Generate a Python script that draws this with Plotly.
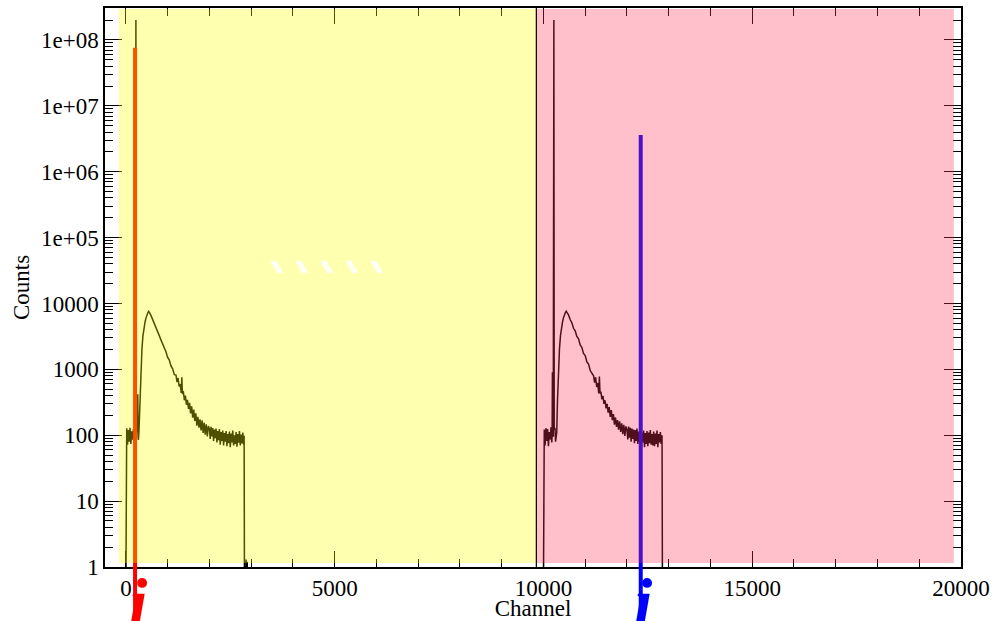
import plotly.graph_objects as go
import numpy as np

# ---------------- data ----------------
# spectrum in the first (yellow) region
ch_a = [0, 4, 20, 40, 60, 80, 100, 120, 140, 160, 180, 200, 215, 232, 240, 248, 265, 285, 292, 300, 312,
        336, 348, 360, 384, 408, 432, 456, 480, 504, 528, 545, 560,
        600, 640, 680, 720, 760, 800, 840, 880, 920, 960, 1000, 1040, 1080, 1120, 1160,
        1200, 1225, 1250, 1275, 1300, 1325, 1340, 1355, 1375, 1400, 1425, 1450, 1475, 1500, 1525, 1550,
        1575, 1600, 1625, 1650, 1675, 1700, 1725, 1750, 1775, 1800, 1825, 1850, 1875, 1900, 1925, 1950, 1975,
        2000, 2020, 2040, 2060, 2080, 2100, 2120, 2140, 2160, 2180, 2200, 2220, 2240, 2260, 2280, 2300,
        2320, 2340, 2360, 2380, 2400, 2420, 2440, 2460, 2480, 2500, 2520, 2540, 2560, 2580, 2600, 2620,
        2640, 2660, 2680, 2700, 2720, 2740, 2760, 2780, 2800, 2820, 2832, 2840, 2870, 2878, 2886, 2900, 2906, 2914]
cnt_a = [0.5, 95, 128, 72, 120, 80, 130, 74, 115, 86, 124, 76, 110, 100, 2.0e8, 130, 110, 420, 95, 85, 110,
         316, 600, 1000, 2000, 3200, 4300, 5100, 6000, 6800, 7300, 7600, 7400,
         6600, 5800, 5000, 4300, 3750, 3250, 2800, 2450, 2050, 1850, 1520, 1380, 1130, 1020, 830,
         820, 640, 740, 550, 600, 440, 760, 420, 470, 340, 400, 290, 345, 250, 310, 215,
         275, 185, 245, 165, 215, 140, 190, 130, 175, 118, 168, 108, 155, 102, 146, 96, 138,
         126, 88, 134, 96, 128, 82, 122, 90, 126, 78, 116, 84, 124, 72, 112, 82,
         118, 70, 108, 80, 116, 68, 104, 76, 114, 66, 106, 78, 118, 70, 100, 74,
         112, 67, 104, 77, 116, 70, 102, 75, 110, 72, 98, 0.5, 0.5, 1.3, 0.5, 0.5, 1.2, 0.5]

# spectrum in the second (pink) region
ch_b = [10000, 10004, 10020, 10040, 10060, 10080, 10100, 10120, 10140, 10160, 10180, 10200, 10208, 10215, 10222,
        10235, 10250, 10258, 10275, 10290, 10305, 10318,
        10336, 10348, 10360, 10384, 10408, 10432, 10456, 10480, 10504, 10528, 10545, 10560,
        10600, 10640, 10680, 10720, 10760, 10800, 10840, 10880, 10920, 10960, 11000, 11040, 11080, 11120, 11160,
        11200, 11225, 11250, 11275, 11300, 11325, 11340, 11355, 11375, 11400, 11425, 11450, 11475, 11500, 11525, 11550,
        11575, 11600, 11625, 11650, 11675, 11700, 11725, 11750, 11775, 11800, 11825, 11850, 11875, 11900, 11925, 11950, 11975,
        12000, 12020, 12040, 12060, 12080, 12100, 12120, 12140, 12160, 12180, 12200, 12220, 12240, 12260, 12280, 12300,
        12320, 12340, 12360, 12380, 12400, 12420, 12440, 12460, 12480, 12500, 12520, 12540, 12560, 12580, 12600, 12620,
        12640, 12660, 12680, 12700, 12720, 12740, 12760, 12780, 12800, 12820, 12840, 12850]
cnt_b = [0.5, 90, 122, 70, 128, 82, 124, 68, 112, 86, 132, 78, 100, 900, 110,
         95, 2.0e8, 120, 130, 80, 95, 110,
         330, 620, 1050, 2050, 3250, 4350, 5200, 6100, 6900, 7350, 7650, 7450,
         6700, 5700, 5100, 4200, 3850, 3150, 2900, 2350, 2150, 1750, 1620, 1300, 1200, 960, 890,
         800, 630, 760, 540, 620, 430, 780, 430, 460, 350, 395, 300, 340, 255, 300, 220,
         268, 190, 240, 170, 210, 145, 186, 134, 170, 122, 162, 112, 152, 104, 144, 98, 136,
         122, 86, 136, 92, 130, 80, 126, 88, 122, 76, 120, 82, 126, 74, 114, 80,
         120, 70, 110, 78, 118, 66, 108, 74, 116, 68, 110, 76, 120, 72, 104, 70,
         114, 68, 106, 74, 118, 66, 104, 78, 112, 74, 100, 0.5]

# vertical cursor markers
marker_ch = [220, 12330]
marker_top = [7.6e7, 3.6e6]
marker_col = ["red", "blue"]

# shaded regions (semi-transparent overlays)
region_x0 = [-170, 9830]
region_x1 = [9830, 19830]
region_col = ["rgb(255,255,0)", "rgb(255,52,87)"]
divider_ch = 9830

# white marks
white_x = [3620, 4220, 4820, 5420, 6020]
white_y = 36000

# ticks
x_tickvals = [0, 5000, 10000, 15000, 20000]
x_ticktext = ["0", "5000", "10000", "15000", "20000"]
x_minor = [v for v in range(0, 20001, 1000) if v % 5000 != 0]
y_tickvals = [1, 10, 100, 1000, 1e4, 1e5, 1e6, 1e7, 1e8]
y_ticktext = ["1", "10", "100", "1000", "10000", "1e+05", "1e+06", "1e+07", "1e+08"]
y_minor = [m * d for d in [1, 10, 100, 1000, 1e4, 1e5, 1e6, 1e7, 1e8] for m in range(2, 10)]

FONT = "Liberation Serif"

fig = go.Figure()
fig.add_trace(go.Scatter(x=ch_a, y=cnt_a, mode="lines", line=dict(color="black", width=1.5),
                         showlegend=False, hoverinfo="skip"))
fig.add_trace(go.Scatter(x=ch_b, y=cnt_b, mode="lines", line=dict(color="black", width=1.5),
                         showlegend=False, hoverinfo="skip"))

shapes = []
# cursor markers (drawn first so overlays tint them)
for cx, top, col in zip(marker_ch, marker_top, marker_col):
    shapes.append(dict(type="line", xref="x", yref="y", x0=cx, x1=cx, y0=1, y1=top,
                       line=dict(color=col, width=4), layer="above"))
    shapes.append(dict(type="line", xref="x", yref="paper", x0=cx, x1=cx, y0=-0.2, y1=0,
                       line=dict(color=col, width=4), layer="above"))
# overlays
for x0, x1, col in zip(region_x0, region_x1, region_col):
    shapes.append(dict(type="rect", xref="x", yref="paper", x0=x0, x1=x1, y0=0.007, y1=0.998,
                       fillcolor=col, opacity=0.31, line=dict(width=0), layer="above"))
shapes.append(dict(type="line", xref="x", yref="paper", x0=divider_ch, x1=divider_ch, y0=0, y1=1,
                   line=dict(color="black", width=1.2), layer="above"))

annotations = []
for cx, col in zip(marker_ch, marker_col):
    annotations.append(dict(x=cx, y=0, xref="x", yref="paper", text="<b><i>i</i></b>", showarrow=False,
                            xanchor="center", yanchor="top", xshift=3, yshift=4,
                            font=dict(family=FONT, size=66, color=col)))
for wx in white_x:
    for dx in (-2, 0, 2):
        annotations.append(dict(x=wx, y=np.log10(white_y), xref="x", yref="y", text="<b>\\</b>",
                                showarrow=False, xshift=dx, textangle=-12,
                                font=dict(family="DejaVu Sans", size=16, color="white")))

fig.update_layout(
    width=992, height=621,
    margin=dict(l=105, r=31, t=8, b=54),
    paper_bgcolor="white", plot_bgcolor="white",
    font=dict(family=FONT, size=23, color="black"),
    shapes=shapes, annotations=annotations,
    xaxis=dict(range=[-500, 20000], tickmode="array", tickvals=x_tickvals, ticktext=x_ticktext,
               ticks="inside", ticklen=16, tickwidth=1, tickcolor="black",
               minor=dict(tickmode="array", tickvals=x_minor, ticks="inside", ticklen=8, tickwidth=1, tickcolor="black"),
               showline=True, linecolor="black", linewidth=1.5, mirror="ticks",
               showgrid=False, zeroline=False, automargin=False,
               title=dict(text="Channel", standoff=0, font=dict(family=FONT, size=23))),
    yaxis=dict(type="log", range=[0, 8.485], tickmode="array", tickvals=y_tickvals, ticktext=y_ticktext,
               ticks="inside", ticklen=17, tickwidth=1, tickcolor="black",
               minor=dict(tickmode="array", tickvals=y_minor, ticks="inside", ticklen=8, tickwidth=1, tickcolor="black"),
               showline=True, linecolor="black", linewidth=1.5, mirror="ticks",
               showgrid=False, zeroline=False, automargin=False,
               title=dict(text="Counts", standoff=5, font=dict(family=FONT, size=23))),
)

fig.write_html("out.html", config={"displayModeBar": False},
               post_script="document.body.style.margin='0px';")
